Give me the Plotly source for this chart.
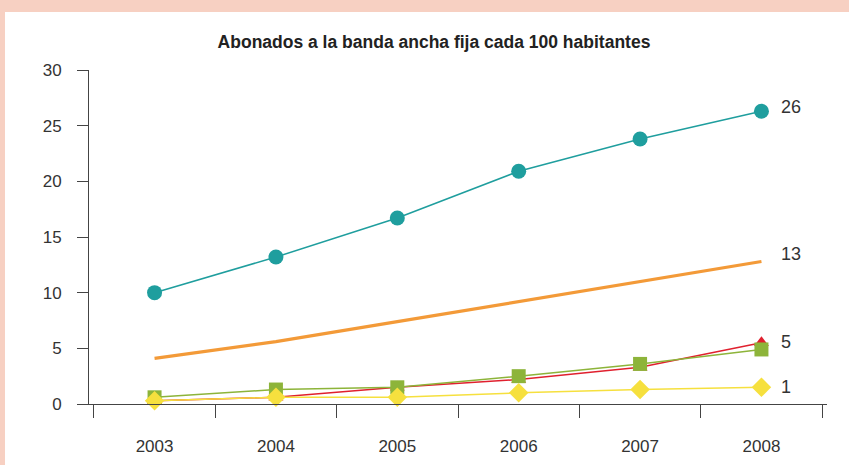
import plotly.graph_objects as go

YEARS = [2003, 2004, 2005, 2006, 2007, 2008]
YEAR_LABELS = ["2003", "2004", "2005", "2006", "2007", "2008"]

TEAL_VALUES = [10.0, 13.2, 16.7, 20.9, 23.8, 26.3]
ORANGE_VALUES = [4.1, 5.6, 7.4, 9.2, 11.0, 12.8]
RED_VALUES = [0.3, 0.6, 1.5, 2.2, 3.3, 5.5]
GREEN_VALUES = [0.6, 1.3, 1.5, 2.5, 3.6, 4.9]
YELLOW_VALUES = [0.3, 0.6, 0.6, 1.0, 1.3, 1.5]

END_LABELS = ["26", "13", "5", "1"]

TITLE = "Abonados a la banda ancha fija cada 100 habitantes"

PINK = "#F7D0C2"
TEXT_COLOR = "#333333"
AXIS_COLOR = "#444444"
FONT = "Liberation Sans Narrow, Liberation Sans, Arial, sans-serif"

W, H = 849, 465
L, R, T, B = 89, 22, 70, 61

fig = go.Figure()

fig.add_trace(go.Scatter(
    x=YEARS, y=TEAL_VALUES, mode="lines+markers",
    line=dict(color="#1F9E9E", width=1.5),
    marker=dict(symbol="circle", size=15, color="#1F9E9E"),
    cliponaxis=False,
))
fig.add_trace(go.Scatter(
    x=YEARS, y=ORANGE_VALUES, mode="lines",
    line=dict(color="#F39A38", width=3.2),
    cliponaxis=False,
))
fig.add_trace(go.Scatter(
    x=YEARS, y=RED_VALUES, mode="lines+markers",
    line=dict(color="#E0202E", width=1.5),
    marker=dict(symbol="triangle-up", size=13, color="#E0202E"),
    cliponaxis=False,
))
fig.add_trace(go.Scatter(
    x=YEARS, y=GREEN_VALUES, mode="lines+markers",
    line=dict(color="#8DB43A", width=1.5),
    marker=dict(symbol="square", size=14, color="#8DB43A"),
    cliponaxis=False,
))
fig.add_trace(go.Scatter(
    x=YEARS, y=YELLOW_VALUES, mode="lines+markers",
    line=dict(color="#F6E03E", width=1.5),
    marker=dict(symbol="diamond", size=15, color="#F6E03E"),
    cliponaxis=False,
))

# end-of-line value labels
label_series = [TEAL_VALUES, ORANGE_VALUES, RED_VALUES, YELLOW_VALUES]
label_yshift = [4, 7, 1, 0]
for text, series, ys in zip(END_LABELS, label_series, label_yshift):
    fig.add_annotation(
        x=YEARS[-1], y=series[-1], text=text, showarrow=False,
        xanchor="left", xshift=18, yshift=ys,
        font=dict(size=18, color=TEXT_COLOR, family=FONT),
    )

# pink frame at top and left
pw, ph = W - L - R, H - T - B


def px_x(px):
    return (px - L) / pw


def px_y(py):
    return (H - B - py) / ph


fig.add_shape(type="rect", xref="paper", yref="paper",
              x0=px_x(0), x1=px_x(W), y0=px_y(0), y1=px_y(12),
              fillcolor=PINK, line_width=0, layer="below")
fig.add_shape(type="rect", xref="paper", yref="paper",
              x0=px_x(0), x1=px_x(5), y0=px_y(0), y1=px_y(H),
              fillcolor=PINK, line_width=0, layer="below")

boundaries = [y - 0.5 for y in YEARS] + [YEARS[-1] + 0.5]

fig.update_layout(
    width=W, height=H,
    paper_bgcolor="white", plot_bgcolor="white",
    margin=dict(l=L, r=R, t=T, b=B),
    showlegend=False,
    font=dict(family=FONT, color=TEXT_COLOR, size=16),
    title=dict(
        text="<b>" + TITLE + "</b>",
        x=434 / W, xanchor="center", xref="container",
        y=1 - 42 / H, yanchor="middle", yref="container",
        font=dict(size=17.5, color="#222222", family=FONT),
    ),
)
fig.update_xaxes(
    range=[YEARS[0] - 0.54, YEARS[-1] + 0.54],
    tickvals=YEARS, ticktext=YEAR_LABELS, ticks="",
    minor=dict(tickvals=boundaries, ticks="outside", ticklen=13,
               tickcolor=AXIS_COLOR, showgrid=False),
    showline=True, linecolor=AXIS_COLOR, linewidth=1,
    showgrid=False, zeroline=False, automargin=False,
    ticklabelstandoff=27,
    tickfont=dict(size=17, color=TEXT_COLOR),
)
fig.update_yaxes(
    range=[0, 30], dtick=5,
    showline=True, linecolor=AXIS_COLOR, linewidth=1,
    ticks="outside", ticklen=11, tickcolor=AXIS_COLOR,
    showgrid=False, zeroline=False, automargin=False,
    ticklabelstandoff=12,
    tickfont=dict(size=17, color=TEXT_COLOR),
)

# drop the browser's default page margin so the figure sits at the window corner
fig.write_html(
    "out.html",
    config={"displayModeBar": False},
    post_script="document.body.style.margin = '0';",
)
